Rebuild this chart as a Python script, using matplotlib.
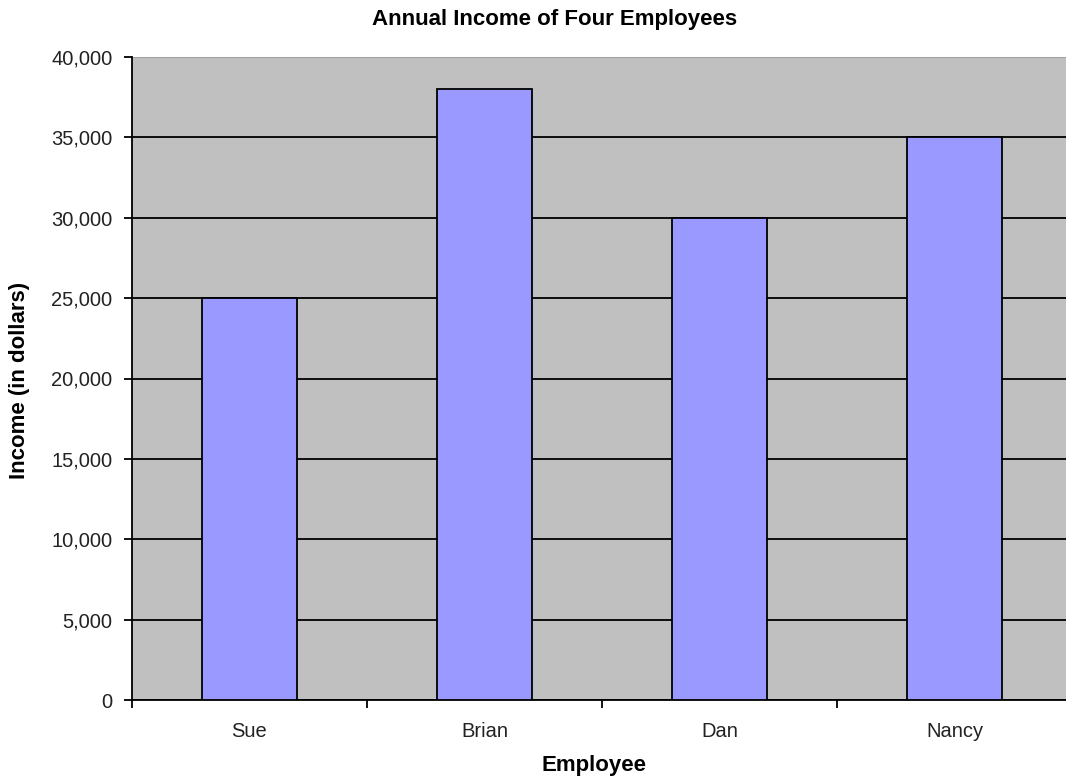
import matplotlib.pyplot as plt
from matplotlib.ticker import FuncFormatter, FixedLocator

employees = ["Sue", "Brian", "Dan", "Nancy"]
income = [25000, 38000, 30000, 35000]
y_ticks = list(range(0, 40001, 5000))

plt.rcParams['font.family'] = ['Liberation Sans', 'DejaVu Sans']

fig = plt.figure(figsize=(10.66, 7.8), dpi=100)
ax = fig.add_axes([132 / 1066, 80 / 780, 940 / 1066, 643 / 780])
ax.set_facecolor("#c0c0c0")

x = list(range(len(employees)))
ax.bar(x, income, width=0.405, color="#9999ff", edgecolor="black", linewidth=1.3, zorder=3)

ax.set_xlim(-0.5, len(employees) - 0.5)
ax.set_ylim(0, 40000)

# gridlines at every major y tick, drawn below the bars
ax.set_yticks(y_ticks)
ax.yaxis.set_major_formatter(FuncFormatter(lambda v, p: f"{int(v):,}"))
ax.grid(axis="y", color="black", linewidth=1.3, zorder=1)
ax.set_axisbelow(True)

# category labels centred, tick marks between categories
ax.set_xticks(x)
ax.set_xticklabels(employees)
ax.tick_params(axis="x", which="major", length=0, pad=16, labelsize=14.5, labelcolor="#222222")
ax.xaxis.set_minor_locator(FixedLocator([i - 0.5 for i in range(len(employees) + 1)]))
ax.tick_params(axis="x", which="minor", length=6, width=1.3, direction="out")
ax.tick_params(axis="y", length=6, width=1.3, direction="out", labelsize=14.5,
               labelcolor="#222222", pad=8)

for side in ["top", "right"]:
    ax.spines[side].set_visible(False)
ax.spines["left"].set_linewidth(1.3)
ax.spines["bottom"].set_linewidth(1.3)
ax.axhline(40000, color="#a0a0a0", linewidth=1.5, zorder=2)

fig.text(555 / 1066, 1 - 20 / 780, "Annual Income of Four Employees",
         ha="center", va="center", fontsize=16, fontweight="bold")
fig.text(594 / 1066, 1 - 765 / 780, "Employee",
         ha="center", va="center", fontsize=16, fontweight="bold")
fig.text(20 / 1066, 1 - 380 / 780, "Income (in dollars)",
         ha="center", va="center", rotation=90, fontsize=16, fontweight="bold")

plt.savefig("out.png", dpi=100)
